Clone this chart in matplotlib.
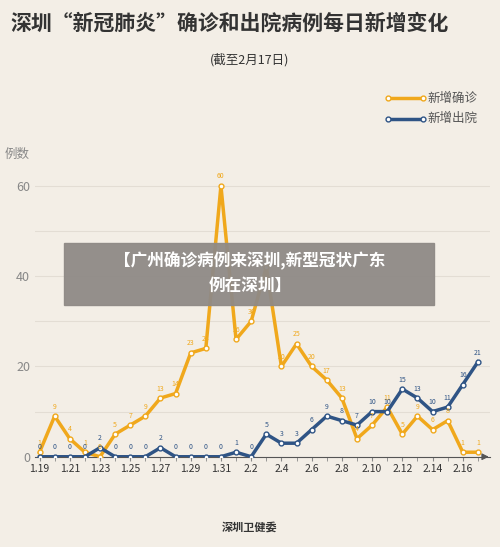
import matplotlib.pyplot as plt
import numpy as np

plt.rcParams['font.family'] = ['Noto Sans CJK SC', 'DejaVu Sans']

dates = ["1.19", "1.20", "1.21", "1.22", "1.23", "1.24", "1.25", "1.26", "1.27", "1.28",
         "1.29", "1.30", "1.31", "2.1", "2.2", "2.3", "2.4", "2.5", "2.6", "2.7",
         "2.8", "2.9", "2.10", "2.11", "2.12", "2.13", "2.14", "2.15", "2.16", "2.17"]
confirmed = [1, 9, 4, 1, 0, 5, 7, 9, 13, 14, 23, 24, 60, 26, 30, 42, 20, 25, 20, 17,
             13, 4, 7, 11, 5, 9, 6, 8, 1, 1]
discharged = [0, 0, 0, 0, 2, 0, 0, 0, 2, 0, 0, 0, 0, 1, 0, 5, 3, 3, 6, 9,
              8, 7, 10, 10, 15, 13, 10, 11, 16, 21]

bg = "#f3eee6"
orange = "#f0a81c"
blue = "#2f5485"

fig = plt.figure(figsize=(5, 5.47), dpi=100, facecolor=bg)
ax = fig.add_axes([0.07, 0.165, 0.91, 0.52], facecolor=bg)
x = np.arange(len(dates))

ax.plot(x, confirmed, color=orange, lw=2.5, marker="o", ms=3.5, mfc="white", mec=orange, mew=1, zorder=3)
ax.plot(x, discharged, color=blue, lw=2.5, marker="o", ms=3.5, mfc="white", mec=blue, mew=1, zorder=3)
for i in x:
    ax.text(i, confirmed[i] + 1.2, str(confirmed[i]), color=orange, fontsize=5, ha="center", va="bottom")
    ax.text(i, discharged[i] + 1.2, str(discharged[i]), color=blue, fontsize=5, ha="center", va="bottom")

ax.set_xlim(-0.3, 29.8)
ax.set_ylim(0, 63)
ax.set_yticks([0, 20, 40, 60])
ax.set_yticks([10, 30, 50], minor=True)
ax.yaxis.set_minor_formatter(plt.NullFormatter())
ax.grid(axis="y", which="both", color="#e3ddd4", lw=0.8)
ax.set_xticks(x[::2])
ax.set_xticklabels(dates[::2], fontsize=7.5, color="#333333")
ax.set_xticks(x, minor=True)
ax.tick_params(axis="y", which="both", length=0, labelsize=9, labelcolor="#888888")
ax.tick_params(axis="x", which="both", length=3, color="#888888", pad=2)
for s in ["top", "right", "left"]:
    ax.spines[s].set_visible(False)
ax.spines["bottom"].set_color("#555555")
ax.annotate("", xy=(29.9, 0), xytext=(29.3, 0), xycoords="data",
            arrowprops=dict(arrowstyle="-|>", color="#555555", lw=0.8), annotation_clip=False)

fig.text(0.02, 0.958, "深圳“新冠肺炎”确诊和出院病例每日新增变化", fontsize=15, fontweight="bold", color="#333333", va="center")
fig.text(0.5, 0.89, "(截至2月17日)", fontsize=9, color="#333333", ha="center", va="center")
fig.text(0.01, 0.718, "例数", fontsize=9, color="#888888", va="center")

fig.lines.append(plt.Line2D([0.775, 0.845], [0.82, 0.82], transform=fig.transFigure, color=orange, lw=2.5, marker="o", ms=3.5, mfc="white", markevery=[0, 1]))
fig.text(0.855, 0.82, "新增确诊", fontsize=9, color="#555555", va="center")
fig.lines.append(plt.Line2D([0.775, 0.845], [0.783, 0.783], transform=fig.transFigure, color=blue, lw=2.5, marker="o", ms=3.5, mfc="white", markevery=[0, 1]))
fig.text(0.855, 0.783, "新增出院", fontsize=9, color="#555555", va="center")

fig.patches.append(plt.Rectangle((0.128, 0.443), 0.74, 0.113, transform=fig.transFigure, color="#8f8a86", alpha=0.95, zorder=5))
fig.text(0.5, 0.523, "【广州确诊病例来深圳,新型冠状广东", fontsize=12, fontweight="bold", color="white", ha="center", va="center", zorder=6)
fig.text(0.5, 0.478, "例在深圳】", fontsize=12, fontweight="bold", color="white", ha="center", va="center", zorder=6)

fig.text(0.5, 0.037, "深圳卫健委", fontsize=8, fontweight="bold", color="#333333", ha="center", va="center")

fig.savefig("out.png", dpi=100, facecolor=bg)
